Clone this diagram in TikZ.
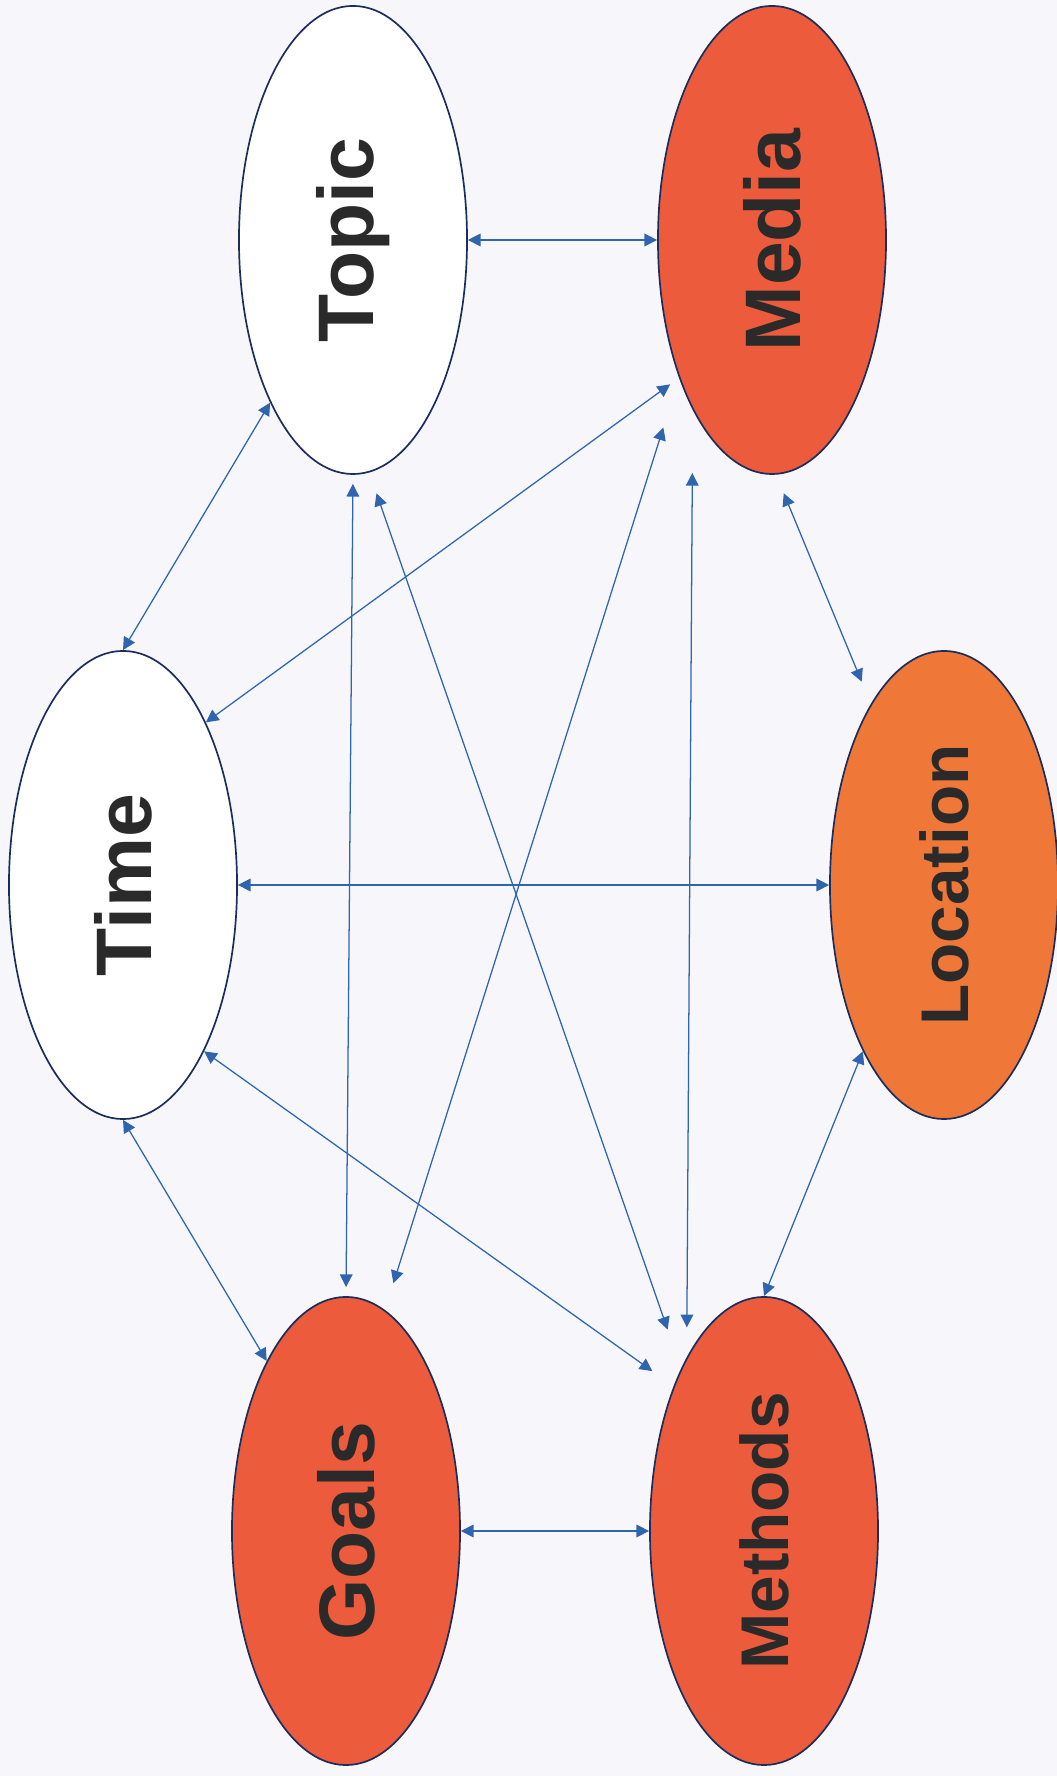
\documentclass[tikz,border=0pt]{standalone}
\usepackage{fontspec}
\setmainfont{Liberation Sans}
\usepackage{graphicx}
\usepackage{xcolor}
\usetikzlibrary{arrows.meta,shapes.geometric}
\definecolor{paper}{HTML}{F7F7FB}
\definecolor{rim}{HTML}{1B2D5C}
\definecolor{lnk}{HTML}{2F65AF}
\definecolor{redfill}{HTML}{EC5B3B}
\definecolor{orangefill}{HTML}{EF7838}
\definecolor{ink}{HTML}{2A2A2A}

\begin{document}
\begin{tikzpicture}[x=0.025cm, y=0.025cm,
    blob/.style={ellipse, draw=rim, line width=1.2pt, minimum width=5.7cm,
        minimum height=11.7cm, inner sep=0pt, text=ink,
        font=\bfseries\fontsize{56}{60}\selectfont},
    longword/.style={font=\bfseries\fontsize{48}{52}\selectfont},
    link/.style={{Triangle[length=9pt,width=9pt]}-{Triangle[length=9pt,width=9pt]},
        draw=lnk, line width=0.9pt}]
    \fill[paper] (0,0) rectangle (1057,1776);
    \useasboundingbox (0,0) rectangle (1057,1776);
    % the six ellipses
    \node[blob, fill=white] (topic) at (353,1536) {\rotatebox{90}{Topic}};
    \node[blob, fill=redfill] (media) at (772,1536) {\rotatebox{90}{Media}};
    \node[blob, fill=white] (time) at (123,891) {\rotatebox{90}{Time}};
    \node[blob, longword, fill=orangefill] (location) at (944,891) {\rotatebox{90}{Location}};
    \node[blob, fill=redfill] (goals) at (346,245) {\rotatebox{90}{Goals}};
    \node[blob, longword, fill=redfill] (methods) at (764,245) {\rotatebox{90}{Methods}};
    % horizontal links
    \draw[link] (topic) -- (media);
    \draw[link] (time) -- (location);
    \draw[link] (goals) -- (methods);
    % the rest
    \draw[link] (topic.243.7) -- (time.north);
    \draw[link, shorten >=0.275cm] (time.63.7) -- (media.236.4);
    \draw[link, shorten <=0.225cm, shorten >=0.225cm] (topic.south) -- (goals.north);
    \draw[link, shorten <=0.55cm, shorten >=1.025cm] (topic.274.6) -- (methods.117.8);
    \draw[link, shorten <=1.3cm, shorten >=0.7cm] (media.236.3) -- (goals.80.9);
    \draw[link, shorten <=1.575cm, shorten >=0.75cm] (media.245.8) -- (methods.114.7);
    \draw[link, shorten <=0.5cm, shorten >=0.6cm] (media.271.9) -- (location.112.3);
    \draw[link] (time.south) -- (goals.115.9);
    \draw[link, shorten >=0.65cm] (time.296.7) -- (methods.122);
    \draw[link] (location.244.3) -- (methods.north);
\end{tikzpicture}
\end{document}
